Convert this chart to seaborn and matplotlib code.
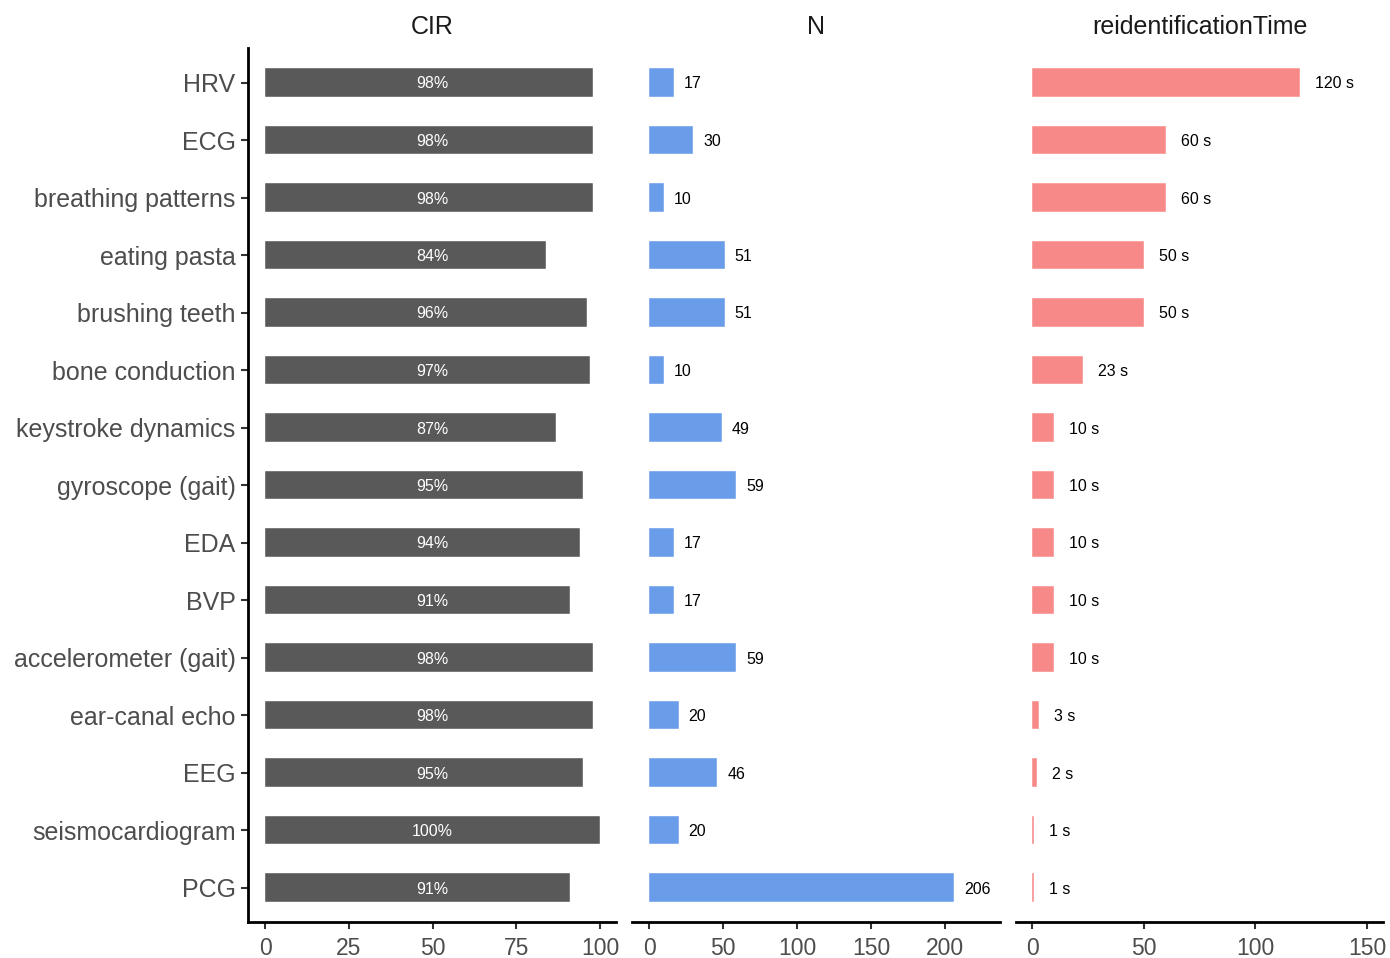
import matplotlib
matplotlib.use("Agg")
import matplotlib.pyplot as plt
import seaborn as sns
import pandas as pd

modalities = ["HRV", "ECG", "breathing patterns", "eating pasta", "brushing teeth",
              "bone conduction", "keystroke dynamics", "gyroscope (gait)", "EDA", "BVP",
              "accelerometer (gait)", "ear-canal echo", "EEG", "seismocardiogram", "PCG"]
cir = [98, 98, 98, 84, 96, 97, 87, 95, 94, 91, 98, 98, 95, 100, 91]
n_subjects = [17, 30, 10, 51, 51, 10, 49, 59, 17, 17, 59, 20, 46, 20, 206]
reid_time = [120, 60, 60, 50, 50, 23, 10, 10, 10, 10, 10, 3, 2, 1, 1]

cir_ticks = [0, 25, 50, 75, 100]
n_ticks = [0, 50, 100, 150, 200]
time_ticks = [0, 50, 100, 150]

df = pd.DataFrame({"modality": modalities, "CIR": cir, "N": n_subjects,
                   "reidentificationTime": reid_time})

sns.set_theme(style="ticks")
plt.rcParams["font.family"] = ["Liberation Sans", "DejaVu Sans"]

W, H = 1390, 958
fig = plt.figure(figsize=(W / 100, H / 100), dpi=100)


def rect(l, r, t=48, b=922):
    return [l / W, 1 - b / H, (r - l) / W, (b - t) / H]


panels = [
    ("CIR", rect(248, 616), "#595959", (-5.1, 104.8), cir_ticks),
    ("N", rect(632, 1000), "#6A9DE9", (-11.5, 237), n_ticks),
    ("reidentificationTime", rect(1016, 1383), "#F78A89", (-7.2, 157.2), time_ticks),
]

tick_col = "#4D4D4D"
for i, (col, r, color, xlim, ticks) in enumerate(panels):
    ax = fig.add_axes(r)
    sns.barplot(data=df, x=col, y="modality", order=modalities, ax=ax, color=color,
                saturation=1, width=0.5, orient="h", edgecolor="white", linewidth=0.3)
    ax.set_xlim(*xlim)
    ax.set_ylim(len(modalities) - 1 + 0.6, -0.6)
    ax.set_xticks(ticks)
    ax.set_xlabel("")
    ax.set_ylabel("")
    ax.set_title(col, fontsize=18, color="#1A1A1A", pad=10)
    for s in ["top", "right"]:
        ax.spines[s].set_visible(False)
    ax.spines["bottom"].set_linewidth(2)
    ax.spines["bottom"].set_color("black")
    ax.tick_params(axis="x", labelsize=16.5, labelcolor=tick_col, color="#333333",
                   length=5, width=1.5, pad=6)
    if i == 0:
        ax.spines["left"].set_linewidth(2)
        ax.spines["left"].set_color("black")
        ax.tick_params(axis="y", labelsize=18, labelcolor=tick_col, color="#333333",
                       length=5, width=1.5, pad=4)
    else:
        ax.spines["left"].set_visible(False)
        ax.tick_params(axis="y", left=False, labelleft=False)

    vals = df[col].tolist()
    for j, v in enumerate(vals):
        if col == "CIR":
            ax.text(50, j, f"{v}%", color="white", fontsize=11.5, ha="center",
                    va="center_baseline")
        elif col == "N":
            ax.annotate(str(v), (v, j), xytext=(10, 0), textcoords="offset pixels",
                        fontsize=11.5, ha="left", va="center_baseline", color="black")
        else:
            ax.annotate(f"{v} s", (v, j), xytext=(15, 0), textcoords="offset pixels",
                        fontsize=11.5, ha="left", va="center_baseline", color="black")

fig.savefig("out.png", dpi=100)
